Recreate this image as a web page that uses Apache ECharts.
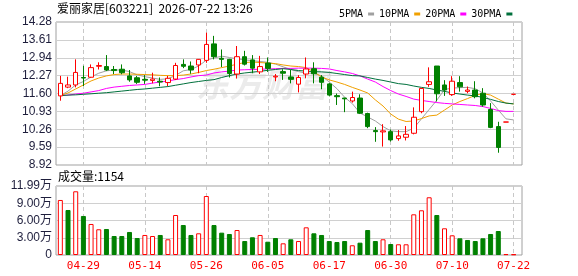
<!DOCTYPE html>
<html>
<head>
<meta charset="utf-8">
<script src="https://cdn.jsdelivr.net/npm/echarts@6/dist/echarts.min.js"></script>
<style>
  html, body { margin: 0; padding: 0; background: #fff; }
  #chart { width: 578px; height: 276px; }
</style>
</head>
<body>
<div id="chart"></div>
<script>
const stockName = '爱丽家居'
const stockCode = '603221'
const stamp = '2026-07-22 13:26'

const dates = [
  '04-24', '04-27', '04-28', '04-29', '04-30', '05-06', '05-07', '05-08', '05-11', '05-12',
  '05-13', '05-14', '05-15', '05-18', '05-19', '05-20', '05-21', '05-22', '05-25', '05-26',
  '05-27', '05-28', '05-29', '06-01', '06-02', '06-03', '06-04', '06-05', '06-08', '06-09',
  '06-10', '06-11', '06-12', '06-15', '06-16', '06-17', '06-18', '06-22', '06-23', '06-24',
  '06-25', '06-26', '06-29', '06-30', '07-01', '07-02', '07-03', '07-06', '07-07', '07-08',
  '07-09', '07-10', '07-13', '07-14', '07-15', '07-16', '07-17', '07-20', '07-21', '07-22'
]
const dateTicks = ['04-29', '05-14', '05-26', '06-05', '06-17', '06-30', '07-10', '07-22']
const priceTicks = ['8.92', '9.59', '10.26', '10.93', '11.60', '12.27', '12.94', '13.61', '14.28']
const volTicks = ['0', '3.00万', '6.00万', '9.00万', '11.99万']

const opens = [
  11.51, 11.84, 11.92, 12.20, 12.21, 12.62, 12.61, 12.50, 12.51, 12.26,
  12.19, 12.13, 12.09, 12.06, 12.01, 12.14, 12.69, 12.63, 12.67, 12.84,
  13.46, 12.92, 12.88, 12.33, 12.98, 12.86, 12.41, 12.74, 12.22, 12.42,
  12.22, 11.95, 12.33, 12.53, 12.21, 11.96, 11.52, 11.43, 11.32, 11.43,
  10.85, 10.21, 10.16, 10.17, 9.91, 9.96, 10.11, 10.92, 11.94, 12.63,
  11.92, 11.56, 12.01, 11.68, 11.73, 11.61, 11.00, 10.36, 10.53, 11.57
]
const closes = [
  11.98, 11.92, 12.39, 12.18, 12.57, 12.65, 12.48, 12.46, 12.38, 12.11,
  12.02, 12.10, 12.14, 12.03, 12.17, 12.65, 12.62, 12.48, 12.88, 13.44,
  12.98, 12.88, 12.35, 12.98, 12.70, 12.55, 12.61, 12.54, 12.25, 12.36,
  12.13, 12.20, 12.52, 12.34, 12.02, 11.54, 11.48, 11.40, 11.45, 10.86,
  10.36, 10.17, 10.20, 9.86, 10.01, 10.07, 10.71, 11.79, 12.04, 11.59,
  11.73, 12.06, 11.85, 11.73, 11.48, 11.17, 10.33, 9.58, 10.53, 11.57
]
const lows = [
  11.33, 11.80, 11.83, 11.88, 12.19, 12.50, 12.44, 12.33, 12.32, 12.04,
  11.96, 11.96, 11.98, 11.87, 11.88, 12.11, 12.55, 12.34, 12.36, 12.75,
  12.88, 12.59, 12.20, 12.16, 12.65, 12.36, 12.33, 12.41, 12.06, 12.11,
  11.98, 11.64, 12.17, 11.98, 11.76, 11.49, 11.17, 10.90, 11.26, 10.83,
  10.30, 9.79, 9.61, 9.80, 9.83, 9.84, 10.07, 10.86, 11.85, 11.30,
  11.51, 11.51, 11.67, 11.61, 11.42, 11.11, 10.30, 9.38, 10.53, 11.57
]
const highs = [
  12.26, 12.23, 12.88, 12.64, 12.69, 12.77, 13.04, 12.63, 12.69, 12.48,
  12.26, 12.29, 12.38, 12.20, 12.26, 12.75, 12.88, 12.80, 12.89, 13.88,
  13.76, 13.25, 12.90, 13.38, 13.20, 13.04, 13.01, 12.95, 12.33, 12.51,
  12.48, 12.29, 12.95, 12.77, 12.29, 12.00, 11.60, 11.44, 11.67, 11.57,
  10.88, 10.34, 10.45, 10.25, 10.23, 10.38, 11.08, 11.81, 12.58, 12.63,
  12.10, 12.25, 12.25, 11.86, 12.06, 11.80, 11.24, 10.54, 10.53, 11.57
]

const ma5 = [
  11.52, 11.69, 11.92, 12.05, 12.22, 12.36, 12.45, 12.48, 12.48, 12.42,
  12.30, 12.23, 12.18, 12.13, 12.15, 12.28, 12.45, 12.50, 12.63, 12.85,
  12.93, 13.00, 12.95, 12.90, 12.86, 12.83, 12.80, 12.77, 12.70, 12.60,
  12.50, 12.42, 12.36, 12.36, 12.26, 12.03, 11.78, 11.46, 11.22, 10.87,
  10.72, 10.57, 10.36, 10.20, 10.17, 10.17, 10.30, 10.65, 11.00, 11.35,
  11.75, 11.80, 11.82, 11.83, 11.78, 11.62, 11.32, 10.98, 10.65, 10.61
]
const ma10 = [
  11.52, 11.62, 11.77, 11.92, 12.07, 12.18, 12.26, 12.31, 12.33, 12.33,
  12.32, 12.31, 12.30, 12.28, 12.27, 12.27, 12.29, 12.33, 12.39, 12.46,
  12.51, 12.57, 12.63, 12.70, 12.76, 12.78, 12.76, 12.74, 12.72, 12.67,
  12.63, 12.61, 12.57, 12.41, 12.22, 12.11, 12.03, 11.94, 11.83, 11.73,
  11.62, 11.36, 11.13, 10.83, 10.64, 10.55, 10.57, 10.66, 10.76, 10.79,
  10.98, 11.17, 11.30, 11.41, 11.53, 11.60, 11.54, 11.39, 11.24, 11.21
]
const ma20 = [
  11.52, 11.54, 11.58, 11.61, 11.66, 11.71, 11.79, 11.84, 11.87, 11.90,
  11.92, 11.94, 11.99, 12.03, 12.07, 12.12, 12.16, 12.22, 12.27, 12.29,
  12.37, 12.41, 12.44, 12.48, 12.49, 12.50, 12.51, 12.52, 12.53, 12.54,
  12.54, 12.55, 12.55, 12.55, 12.54, 12.52, 12.46, 12.41, 12.35, 12.26,
  12.14, 12.03, 11.86, 11.71, 11.58, 11.49, 11.39, 11.34, 11.30, 11.26,
  11.23, 11.21, 11.19, 11.17, 11.15, 11.11, 11.04, 10.96, 10.93, 10.93
]
const ma30 = [
  11.52, 11.54, 11.55, 11.57, 11.59, 11.61, 11.63, 11.66, 11.69, 11.72,
  11.75, 11.77, 11.80, 11.83, 11.86, 11.91, 11.96, 12.01, 12.05, 12.09,
  12.12, 12.20, 12.27, 12.33, 12.37, 12.40, 12.43, 12.47, 12.50, 12.53,
  12.50, 12.46, 12.44, 12.42, 12.41, 12.39, 12.35, 12.31, 12.27, 12.26,
  12.20, 12.14, 12.09, 12.03, 11.97, 11.94, 11.88, 11.83, 11.79, 11.73,
  11.68, 11.62, 11.58, 11.54, 11.51, 11.45, 11.38, 11.30, 11.24, 11.21
]

const volumes = [
  95600, 78200, 110700, 67800, 53900, 44700, 45200, 33000, 33000, 40000,
  29500, 34800, 33000, 34800, 27300, 69500, 52100, 34800, 37700, 102500,
  52100, 38800, 36500, 43400, 24300, 30800, 34800, 23100, 29500, 20300,
  27300, 24300, 48100, 37700, 34800, 24300, 22600, 24300, 16900, 21400,
  43400, 24300, 27300, 19100, 18600, 18600, 70700, 77700, 100300, 69500,
  46400, 34200, 29000, 26100, 24300, 29000, 36500, 41700, 1500, 1154
]

const UP = '#ff0000'
const DOWN = '#008000'
const FRAME = '#a0a0a0'
const GRIDLINE = '#d0d0d0'
const monoFont = '"DejaVu Sans Mono", monospace'
const numFont = '"Liberation Sans", "Noto Sans CJK SC", sans-serif'
const cjkFont = '"Noto Sans CJK SC", sans-serif'

const maList = [
  { name: '5PMA', data: ma5, color: '#a0a0a0' },
  { name: '10PMA', data: ma10, color: '#f0a000' },
  { name: '20PMA', data: ma20, color: '#ff00ff' },
  { name: '30PMA', data: ma30, color: '#00703c' }
]

const kData = dates.map((d, i) => [opens[i], closes[i], lows[i], highs[i]])
// volume colour follows close vs previous close
const volData = volumes.map((v, i) => {
  const up = i === 0 || closes[i] >= closes[i - 1]
  return {
    value: v,
    itemStyle: up ? { color: '#fff', borderColor: UP, borderWidth: 1 } : { color: DOWN, borderColor: DOWN, borderWidth: 1 }
  }
})

const showTick = (i, v) => dateTicks.indexOf(v) !== -1
const dashed = { show: true, interval: showTick, alignWithLabel: true, lineStyle: { color: '#c8c8c8', type: [4, 3], width: 1 } }

const chart = echarts.init(document.getElementById('chart'), null, { renderer: 'canvas' })

chart.setOption({
  animation: false,
  backgroundColor: '#fff',
  legend: {
    data: maList.map(m => m.name),
    left: 334, top: 4,
    align: 'right',
    icon: 'rect',
    itemWidth: 6, itemHeight: 3, itemGap: 5,
    selectedMode: false,
    textStyle: { fontFamily: monoFont, fontSize: 10, color: '#000' }
  },
  graphic: [
    {
      type: 'text', left: 196, top: 68, z: -10, silent: true,
      style: { text: '东方财富', fill: '#ebebeb', font: 'italic bold 33px "Noto Sans CJK SC"' }
    },
    {
      type: 'text', left: 57, top: 2,
      style: { text: stockName + '[' + stockCode + ']  ' + stamp, fill: '#000', font: '12px ' + cjkFont }
    },
    {
      type: 'text', left: 58, top: 170,
      style: { text: '成交量:' + volumes[volumes.length - 1], fill: '#000', font: '12px ' + cjkFont }
    }
  ],
  grid: [
    { left: 56, top: 22, width: 466, height: 143, show: true, borderColor: FRAME, borderWidth: 1, backgroundColor: 'transparent' },
    { left: 56.5, top: 22, width: 461, height: 143 },
    { left: 56, top: 186, width: 466, height: 69, show: true, borderColor: FRAME, borderWidth: 1, backgroundColor: 'transparent' },
    { left: 56.5, top: 186, width: 461, height: 69 }
  ],
  xAxis: [
    { gridIndex: 0, type: 'category', data: dates, show: false },
    {
      gridIndex: 1, type: 'category', data: dates,
      axisLine: { show: false }, axisTick: { show: false }, axisLabel: { show: false },
      splitLine: dashed
    },
    { gridIndex: 2, type: 'category', data: dates, show: false },
    {
      gridIndex: 3, type: 'category', data: dates,
      axisLine: { show: false }, axisTick: { show: false },
      axisLabel: { interval: showTick, color: UP, fontFamily: monoFont, fontSize: 11, margin: 6 },
      splitLine: dashed
    }
  ],
  yAxis: [
    {
      gridIndex: 0, type: 'value', min: 0, max: priceTicks.length - 1, interval: 1,
      axisLine: { show: false }, axisTick: { show: false },
      axisLabel: { formatter: v => priceTicks[v], color: '#1e1e3c', fontFamily: numFont, fontSize: 12, margin: 4 },
      splitLine: { lineStyle: { color: GRIDLINE, width: 1 } }
    },
    { gridIndex: 1, type: 'value', min: 8.92, max: 14.28, show: false },
    {
      gridIndex: 2, type: 'value', min: 0, max: volTicks.length - 1, interval: 1,
      axisLine: { show: false }, axisTick: { show: false },
      axisLabel: { formatter: v => volTicks[v], color: '#1e1e3c', fontFamily: numFont, fontSize: 12, margin: 4 },
      splitLine: { lineStyle: { color: GRIDLINE, width: 1 } }
    },
    { gridIndex: 3, type: 'value', min: 0, max: 119900, show: false }
  ],
  series: [
    ...maList.map(m => ({
      name: m.name, type: 'line', xAxisIndex: 1, yAxisIndex: 1,
      data: m.data, showSymbol: false, silent: true,
      lineStyle: { color: m.color, width: 1 }, itemStyle: { color: m.color }
    })),
    {
      name: 'K', type: 'candlestick', xAxisIndex: 1, yAxisIndex: 1,
      data: kData, barWidth: 5, z: 3,
      itemStyle: { color: '#fff', color0: DOWN, borderColor: UP, borderColor0: DOWN, borderWidth: 1 }
    },
    {
      name: 'VOL', type: 'bar', xAxisIndex: 3, yAxisIndex: 3,
      data: volData, barWidth: 5
    }
  ]
})
</script>
</body>
</html>
